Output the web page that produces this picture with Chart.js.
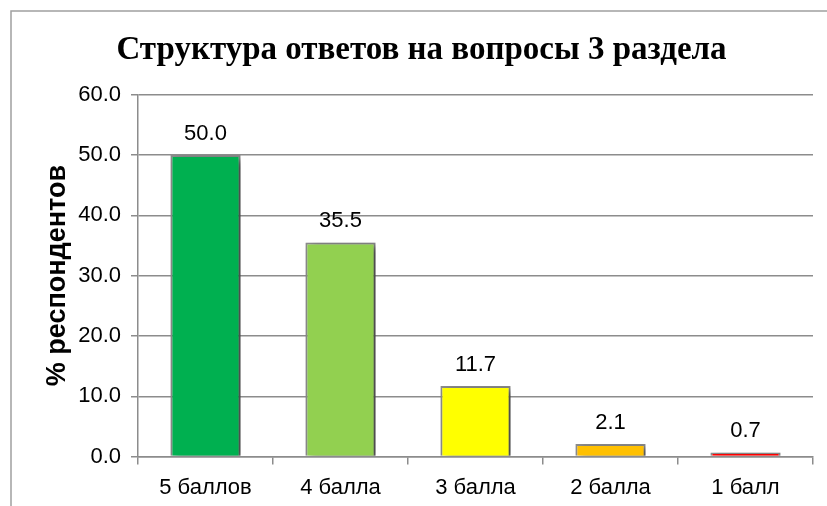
<!DOCTYPE html>
<html>
<head>
<meta charset="utf-8">
<script src="https://cdn.jsdelivr.net/npm/chart.js@4"></script>
<style>
  body { margin: 0; background: #fff; }
  #wrap { width: 827px; height: 506px; }
</style>
</head>
<body>
<div id="wrap"><canvas id="answers-chart" width="827" height="506"></canvas></div>
<script>
// data
const chartTitle = 'Структура ответов на вопросы 3 раздела'
const yTitle = '% респондентов'
const categories = ['5 баллов', '4 балла', '3 балла', '2 балла', '1 балл']
const percents = [50.0, 35.5, 11.7, 2.1, 0.7]
const barColors = ['#00B050', '#92D050', '#FFFF00', '#FFC000', '#FF0000']
const yTicks = [0, 10, 20, 30, 40, 50, 60]

const gray = '#8c8c8c'

//grey frame round the whole chart (only left and top are visible)
const framePlugin = {
    id: 'frame',
    beforeDraw(chart) {
        const ctx = chart.ctx
        ctx.save()
        ctx.strokeStyle = '#a0a0a0'
        ctx.lineWidth = 1.5
        ctx.strokeRect(11, 11, 900, 600)
        ctx.restore()
    }
}

//soft shadow to the right/bottom of the bars
const shadowPlugin = {
    id: 'barShadow',
    beforeDatasetsDraw(chart) {
        const ctx = chart.ctx
        ctx.save()
        ctx.shadowColor = 'rgba(0,0,0,0.5)'
        ctx.shadowBlur = 7
        ctx.shadowOffsetX = 5
        ctx.shadowOffsetY = 3
    },
    afterDatasetsDraw(chart) {
        chart.ctx.restore()
    }
}

//value labels above each bar
const valueLabels = {
    id: 'valueLabels',
    afterDatasetsDraw(chart) {
        const ctx = chart.ctx
        const meta = chart.getDatasetMeta(0)
        ctx.save()
        ctx.font = '22px "Liberation Sans", Arial, sans-serif'
        ctx.fillStyle = '#000'
        ctx.textAlign = 'center'
        ctx.textBaseline = 'alphabetic'
        meta.data.forEach((bar, i) => {
            ctx.fillText(percents[i].toFixed(1), bar.x, bar.y - 15)
        })
        ctx.restore()
    }
}

new Chart(document.querySelector('#answers-chart').getContext('2d'), {
    type: 'bar',
    data: {
        labels: categories,
        datasets: [{
            data: percents,
            backgroundColor: barColors,
            borderColor: gray,
            borderWidth: 2,
            categoryPercentage: 1,
            barPercentage: 0.52
        }]
    },
    options: {
        responsive: false,
        animation: false,
        layout: { padding: { left: 30, right: 14, top: 10, bottom: -5 } },
        plugins: {
            legend: { display: false },
            tooltip: { enabled: false },
            title: {
                display: true,
                text: chartTitle,
                color: '#000',
                font: { family: '"Liberation Serif", "Times New Roman", serif', size: 33, weight: 'bold' },
                padding: { top: 21, bottom: 24 }
            }
        },
        scales: {
            y: {
                min: 0,
                max: 60,
                afterBuildTicks: scale => { scale.ticks = yTicks.map(v => ({ value: v })) },
                afterFit: scale => { scale.width = 108 },
                ticks: {
                    color: '#000',
                    padding: 10,
                    font: { family: '"Liberation Sans", Arial, sans-serif', size: 22 },
                    callback: v => v.toFixed(1)
                },
                grid: { color: gray, lineWidth: 1.5, tickLength: 7 },
                border: { color: gray, width: 1.5 },
                title: {
                    display: true,
                    text: yTitle,
                    color: '#000',
                    font: { family: '"Liberation Sans", Arial, sans-serif', size: 27, weight: 'bold' },
                    padding: { top: 11, bottom: 0 }
                }
            },
            x: {
                ticks: {
                    color: '#000',
                    padding: 10,
                    font: { family: '"Liberation Sans", Arial, sans-serif', size: 22 }
                },
                grid: { offset: true, drawOnChartArea: false, color: gray, lineWidth: 1.5, tickLength: 8 },
                border: { color: gray, width: 1.5 }
            }
        }
    },
    plugins: [framePlugin, shadowPlugin, valueLabels]
})
</script>
</body>
</html>
